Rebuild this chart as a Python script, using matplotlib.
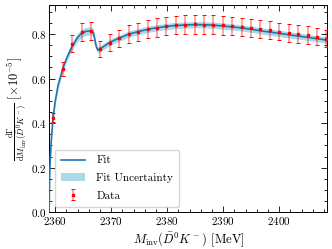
import matplotlib
matplotlib.use("Agg")
import matplotlib.pyplot as plt
from matplotlib.ticker import MultipleLocator

plt.rcParams['font.family'] = ['cmr10', 'DejaVu Serif']
plt.rcParams['mathtext.fontset'] = 'cm'
plt.rcParams['axes.formatter.use_mathtext'] = True
plt.rcParams['font.size'] = 8

m_data = [2359.6, 2361.3, 2363.0, 2364.7, 2366.4, 2368.0, 2369.7, 2371.4,
          2373.1, 2374.8, 2376.5, 2378.1, 2379.8, 2381.5, 2383.2, 2384.9,
          2386.5, 2388.2, 2389.9, 2391.6, 2393.3, 2395.0, 2396.6, 2398.3,
          2400.0, 2401.7, 2403.4, 2405.1, 2406.7, 2408.4]
y_data = [0.425, 0.643, 0.757, 0.809, 0.812, 0.733, 0.761, 0.781,
          0.799, 0.809, 0.821, 0.829, 0.836, 0.840, 0.842, 0.843,
          0.842, 0.842, 0.839, 0.836, 0.831, 0.827, 0.822, 0.817,
          0.811, 0.806, 0.800, 0.794, 0.788, 0.779]
y_err = [0.021, 0.032, 0.038, 0.041, 0.041, 0.037, 0.038, 0.039,
         0.040, 0.040, 0.041, 0.041, 0.042, 0.042, 0.042, 0.042,
         0.042, 0.042, 0.042, 0.042, 0.042, 0.041, 0.041, 0.041,
         0.040, 0.040, 0.040, 0.040, 0.039, 0.039]

# fit curve and its uncertainty
m_fit = [2358.9, 2359.0, 2359.1, 2359.3, 2359.6, 2360.0, 2360.5, 2361.3,
         2362.0, 2363.0, 2364.0, 2364.7, 2365.5, 2366.4, 2366.8, 2367.1,
         2367.3, 2367.6, 2368.0, 2369.0, 2370.0, 2371.4, 2373.1, 2375.0,
         2377.0, 2379.0, 2381.0, 2383.0, 2385.0, 2387.0, 2389.0, 2391.0,
         2393.0, 2395.0, 2397.0, 2399.0, 2401.0, 2403.0, 2405.0, 2407.0,
         2408.6]
y_fit = [0.0, 0.17, 0.24, 0.33, 0.425, 0.50, 0.57, 0.643,
         0.69, 0.745, 0.785, 0.803, 0.812, 0.814, 0.805, 0.77,
         0.745, 0.728, 0.733, 0.750, 0.766, 0.781, 0.799, 0.812,
         0.823, 0.831, 0.837, 0.840, 0.842, 0.841, 0.838, 0.833,
         0.828, 0.821, 0.813, 0.806, 0.799, 0.792, 0.785, 0.778,
         0.772]
fit_err = [0.0, 0.009, 0.011, 0.013, 0.014, 0.015, 0.016, 0.017,
           0.017, 0.017, 0.018, 0.018, 0.018, 0.018, 0.017, 0.016,
           0.015, 0.014, 0.014, 0.014, 0.014, 0.014, 0.014, 0.014,
           0.014, 0.014, 0.014, 0.014, 0.014, 0.014, 0.014, 0.014,
           0.014, 0.014, 0.014, 0.014, 0.014, 0.014, 0.014, 0.014,
           0.014]

fig = plt.figure(figsize=(3.32, 2.49), dpi=100)
ax = fig.add_axes([0.148, 0.147, 0.838, 0.833])

lo = [y - e for y, e in zip(y_fit, fit_err)]
hi = [y + e for y, e in zip(y_fit, fit_err)]
ax.plot(m_fit, y_fit, color='#1f77b4', lw=1.2, label='Fit', zorder=3)
ax.fill_between(m_fit, lo, hi, color='lightblue', lw=0, label='Fit Uncertainty', zorder=2)
eb = ax.errorbar(m_data, y_data, yerr=y_err, fmt='s', color='red', ms=1.8,
                 ecolor=(1, 0, 0, 0.45), elinewidth=1.1, capsize=1.6, capthick=0.7,
                 label='Data', zorder=4)
# caps stay solid red, the bars themselves are faded
for cap in eb[1]:
    cap.set_markeredgecolor('red')

ax.set_xlim(2358.9, 2408.6)
ax.set_ylim(0, 0.93)
ax.xaxis.set_major_locator(MultipleLocator(10))
ax.xaxis.set_minor_locator(MultipleLocator(2))
ax.yaxis.set_major_locator(MultipleLocator(0.2))
ax.yaxis.set_minor_locator(MultipleLocator(0.05))
ax.tick_params(which='both', direction='in', top=True, right=True, labelsize=8, pad=2)
ax.tick_params(which='major', length=4, width=0.6)
ax.tick_params(which='minor', length=2, width=0.6)
for s in ax.spines.values():
    s.set_linewidth(0.7)

ax.set_xlabel(r'$M_{\rm inv}(\bar{D}^0K^-)$ [MeV]', fontsize=9, labelpad=2)
ax.set_ylabel(r'$\frac{\mathrm{d}\Gamma}{\mathrm{d}M_{\rm inv}(\bar{D}^0K^-)}$ $[\times 10^{-5}]$',
              fontsize=9, labelpad=2)

ax.legend(loc='lower left', fontsize=8, framealpha=0.8, edgecolor='#cccccc',
          labelspacing=0.7, handlelength=2.2, handletextpad=1.0, borderpad=0.55)

fig.savefig('out.png', dpi=100)
